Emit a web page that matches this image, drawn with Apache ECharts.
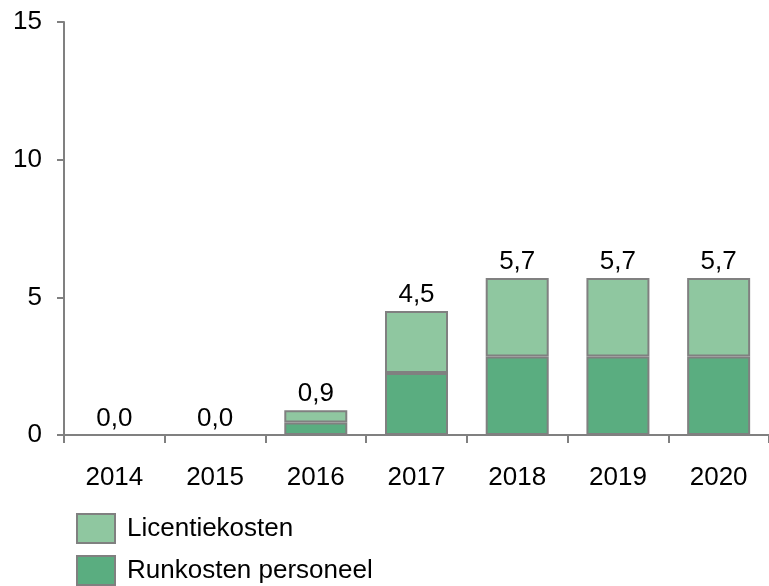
<!DOCTYPE html>
<html>
<head>
<meta charset="utf-8">
<script src="https://cdn.jsdelivr.net/npm/echarts@6/dist/echarts.min.js"></script>
<style>
  html, body { margin: 0; padding: 0; background: #fff; }
  #chart { width: 769px; height: 586px; }
</style>
</head>
<body>
<div id="chart"></div>
<script>
// jaren en kosten (mln)
var years = ['2014', '2015', '2016', '2017', '2018', '2019', '2020'];
var runkosten = [0, 0, 0.45, 2.25, 2.85, 2.85, 2.85];
var licentie = [0, 0, 0.45, 2.25, 2.85, 2.85, 2.85];
var totals = ['0,0', '0,0', '0,9', '4,5', '5,7', '5,7', '5,7'];
var yTicks = [0, 5, 10, 15];
var legendNames = ['Licentiekosten', 'Runkosten personeel'];

var chart = echarts.init(document.getElementById('chart'));

var fontFam = '"Liberation Sans", Arial, sans-serif';
var axisGray = '#808080';

// legenda onder elkaar: 1 legend per item
function legendItem(name, top) {
    return {
        orient: 'vertical',
        left: 76,
        top: top,
        padding: 0,
        itemWidth: 38,
        itemHeight: 29,
        icon: 'rect',
        data: [name],
        itemStyle: { borderColor: axisGray, borderWidth: 2 },
        textStyle: {
            fontFamily: fontFam,
            fontSize: 26,
            color: '#000',
            padding: [0, 0, 0, 7]
        }
    };
}

var option = {
    backgroundColor: '#fff',
    animation: false,
    textStyle: { fontFamily: fontFam, color: '#000' },
    grid: {
        left: 64,
        top: 22,
        bottom: 151,
        width: 707
    },
    legend: [
        legendItem(legendNames[0], 513),
        legendItem(legendNames[1], 555)
    ],
    xAxis: {
        type: 'category',
        data: years,
        axisLine: { lineStyle: { color: axisGray, width: 2 } },
        axisTick: { show: true, length: 8, lineStyle: { color: axisGray, width: 2 } },
        axisLabel: {
            fontSize: 26,
            color: '#000',
            margin: 30,
            fontFamily: fontFam
        }
    },
    yAxis: {
        type: 'value',
        min: yTicks[0],
        max: yTicks[yTicks.length - 1],
        interval: 5,
        splitLine: { show: false },
        axisLine: { show: true, lineStyle: { color: axisGray, width: 2 } },
        axisTick: { show: true, length: 7, lineStyle: { color: axisGray, width: 2 } },
        axisLabel: {
            fontSize: 26,
            color: '#000',
            margin: 22,
            fontFamily: fontFam
        }
    },
    series: [
        {
            name: 'Runkosten personeel',
            type: 'bar',
            stack: 'kosten',
            data: runkosten,
            barWidth: 63,
            itemStyle: { color: '#5aad80', borderColor: axisGray, borderWidth: 2 }
        },
        {
            name: 'Licentiekosten',
            type: 'bar',
            stack: 'kosten',
            data: licentie,
            barWidth: 63,
            itemStyle: { color: '#8fc7a0', borderColor: axisGray, borderWidth: 2 }
        },
        {
            name: 'totaal',
            type: 'bar',
            stack: 'kosten',
            data: years.map(function () { return 0; }),
            barWidth: 63,
            itemStyle: { color: 'rgba(0,0,0,0)', borderWidth: 0 },
            silent: true,
            label: {
                show: true,
                position: 'top',
                distance: 3,
                fontSize: 26,
                color: '#000',
                fontFamily: fontFam,
                formatter: function (p) { return totals[p.dataIndex]; }
            }
        }
    ]
};

chart.setOption(option);
window.addEventListener('resize', function () {
    chart.resize();
});
</script>
</body>
</html>
